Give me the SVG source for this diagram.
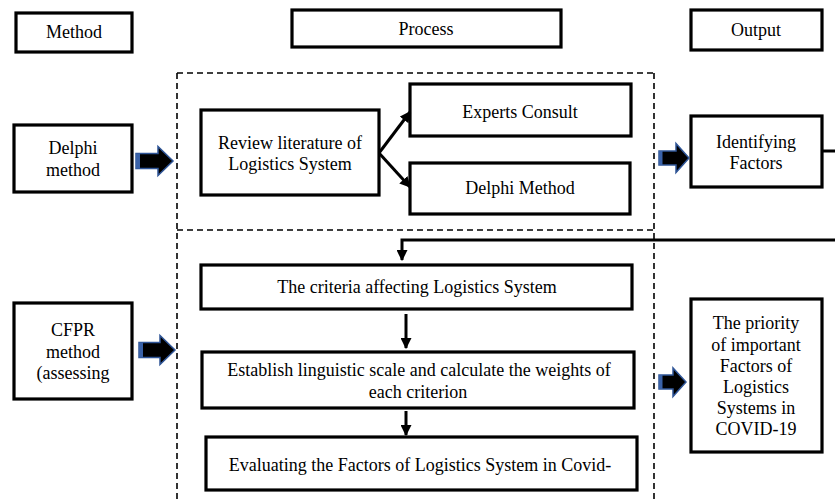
<svg xmlns="http://www.w3.org/2000/svg" width="835" height="502" viewBox="0 0 835 502">
<defs>
<marker id="ah" viewBox="0 0 10 10" refX="9" refY="5" markerWidth="11" markerHeight="11" markerUnits="userSpaceOnUse" orient="auto">
<path d="M0,0 L10,5 L0,10 Z" fill="#000"/>
</marker>
<style>
.box{fill:#fff;stroke:#000;stroke-width:3.2}
.t{font-family:"Liberation Serif","Times New Roman",serif;font-size:18px;fill:#000;text-anchor:middle}
.dash{fill:none;stroke:#000;stroke-width:1.6;stroke-dasharray:6,4}
.ln{fill:none;stroke:#000;stroke-width:3}
.ba{fill:#000;stroke:#2F5597;stroke-width:1.5;stroke-linejoin:miter}
.bt{fill:#3A62A8}
</style>
</defs>
<rect width="835" height="502" fill="#fff"/>

<g id="frame">
<path class="dash" d="M177,73 H654 M177,73 V502 M654,73 V502 M177,230 H654"/>
</g>

<g id="method-header"><rect class="box" x="16" y="13" width="116" height="39"/><text class="t" x="74" y="38">Method</text></g>
<g id="process-header"><rect class="box" x="292" y="10" width="269" height="37"/><text class="t" x="426" y="35">Process</text></g>
<g id="output-header"><rect class="box" x="691" y="10" width="131" height="40"/><text class="t" x="756" y="36">Output</text></g>

<g id="delphi-method"><rect class="box" x="14" y="125" width="118" height="67"/><text class="t" x="73" y="154">Delphi</text><text class="t" x="73" y="176">method</text></g>
<g id="review"><rect class="box" x="201" y="110" width="178" height="85"/><text class="t" x="290" y="149">Review literature of</text><text class="t" x="290" y="170">Logistics System</text></g>
<g id="experts"><rect class="box" x="410" y="84" width="221" height="52"/><text class="t" x="520" y="118">Experts Consult</text></g>
<g id="delphi"><rect class="box" x="410" y="163" width="220" height="51"/><text class="t" x="520" y="194">Delphi Method</text></g>
<g id="identifying"><rect class="box" x="691" y="116" width="131" height="71"/><text class="t" x="756" y="148">Identifying</text><text class="t" x="756" y="169">Factors</text></g>

<g id="cfpr"><rect class="box" x="14" y="303" width="118" height="96"/><text class="t" x="73" y="336">CFPR</text><text class="t" x="73" y="358">method</text><text class="t" x="73" y="379">(assessing</text></g>
<g id="criteria"><rect class="box" x="201" y="265" width="431" height="44"/><text class="t" x="417" y="293">The criteria affecting Logistics System</text></g>
<g id="establish"><rect class="box" x="202" y="352" width="432" height="56"/><text class="t" x="419" y="376">Establish linguistic scale and calculate the weights of</text><text class="t" x="418" y="398">each criterion</text></g>
<g id="evaluating"><rect class="box" x="206" y="437" width="431" height="53"/><text class="t" x="420" y="471">Evaluating the Factors of Logistics System in Covid-</text></g>
<g id="priority"><rect class="box" x="691" y="299" width="131" height="153"/>
<text class="t" x="756" y="329">The priority</text><text class="t" x="756" y="351">of important</text><text class="t" x="756" y="372">Factors of</text><text class="t" x="756" y="393">Logistics</text><text class="t" x="756" y="414">Systems in</text><text class="t" x="756" y="435">COVID-19</text></g>

<g id="connectors">
<line class="ln" x1="379" y1="153" x2="410" y2="112" marker-end="url(#ah)"/>
<line class="ln" x1="379" y1="153" x2="410" y2="187" marker-end="url(#ah)"/>
<path class="ln" d="M822,151 H835"/>
<path class="ln" d="M835,240 H402 V260" marker-end="url(#ah)"/>
<line class="ln" x1="406" y1="314" x2="406" y2="348" marker-end="url(#ah)"/>
<line class="ln" x1="406" y1="411" x2="406" y2="435" marker-end="url(#ah)"/>

<path class="ba" d="M136,153.5 H158 V146.5 L173,161 L158,175.5 V168.5 H136 Z"/><rect class="bt" x="136" y="153.5" width="4" height="15"/>
<path class="ba" d="M139,342.5 H160 V335.5 L175,350 L160,364.5 V357.5 H139 Z"/><rect class="bt" x="139" y="342.5" width="4" height="15"/>
<path class="ba" d="M659,151 H676 V143.5 L689,158 L676,172.5 V165 H659 Z"/><rect class="bt" x="659" y="151" width="3.5" height="14"/>
<path class="ba" d="M659,375 H673 V368 L686,382 L673,396.5 V389 H659 Z"/><rect class="bt" x="659" y="375" width="3.5" height="14"/>
</g>
</svg>
